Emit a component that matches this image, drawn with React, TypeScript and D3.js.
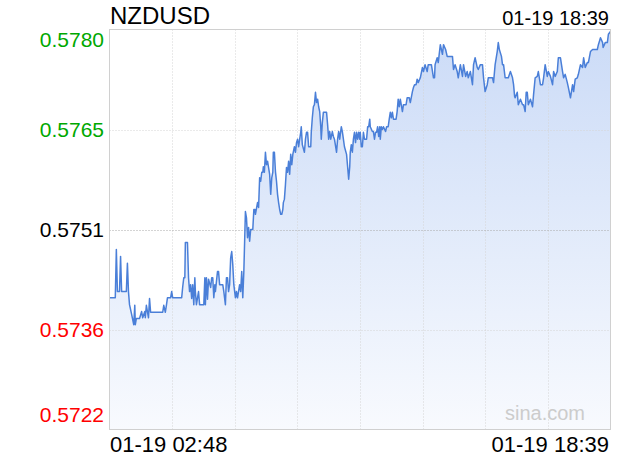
import React from "react";
import * as d3 from "d3";

const symbol = "NZDUSD";
const lastTimeLabel = "01-19 18:39";
const xStartLabel = "01-19 02:48";
const xEndLabel = "01-19 18:39";
const watermark = "sina.com";

// price axis (prev close in the middle)
const prevClose = 0.57508;
const yTickValues = [0.57798, 0.57653, 0.57508, 0.57363, 0.57218];
const totalMinutes = 951; // 02:48 -> 18:39

// [minutes since 02:48, price]
const series: [number, number][] = [
  [0, 0.57409], [2, 0.57409], [11, 0.57409], [13, 0.57479], [15, 0.57418], [19, 0.57418], [21, 0.57469], [23, 0.57418],
  [32, 0.57418], [34, 0.57459], [36, 0.57418], [38, 0.57399], [42, 0.57385], [46, 0.5737], [48, 0.57398], [49, 0.5737],
  [51, 0.57379], [57, 0.57379], [61, 0.57389], [63, 0.5738], [67, 0.57389], [68, 0.5738], [70, 0.57398], [74, 0.5738],
  [76, 0.57408], [78, 0.57388], [101, 0.57388], [103, 0.57398], [106, 0.57388], [108, 0.57398], [110, 0.57409], [116, 0.57409],
  [118, 0.57418], [120, 0.57409], [137, 0.57409], [139, 0.57425], [141, 0.57438], [143, 0.57438], [144, 0.57489], [148, 0.57489],
  [150, 0.57438], [152, 0.57418], [154, 0.57428], [156, 0.57408], [158, 0.57428], [160, 0.57399], [162, 0.57438], [163, 0.57418],
  [165, 0.57399], [169, 0.57418], [171, 0.57399], [179, 0.57399], [181, 0.57438], [182, 0.57399], [184, 0.57438], [186, 0.57407],
  [188, 0.57436], [192, 0.57424], [194, 0.57438], [196, 0.57438], [198, 0.57409], [200, 0.57428], [201, 0.57418], [205, 0.57447],
  [207, 0.57447], [209, 0.57428], [215, 0.57428], [217, 0.57418], [220, 0.57399], [222, 0.57438], [224, 0.57438], [226, 0.57418],
  [228, 0.57428], [230, 0.57467], [232, 0.57476], [234, 0.57457], [236, 0.57428], [239, 0.57409], [241, 0.57418], [243, 0.57409],
  [247, 0.57428], [249, 0.57418], [251, 0.57447], [253, 0.57409], [255, 0.57447], [258, 0.57534], [260, 0.57525], [262, 0.57496],
  [264, 0.57511], [266, 0.57491], [268, 0.57508], [272, 0.57508], [274, 0.57537], [276, 0.57537], [277, 0.5753], [281, 0.57547],
  [283, 0.5754], [285, 0.57583], [287, 0.57578], [289, 0.57591], [291, 0.57591], [292, 0.57599], [294, 0.57591], [296, 0.5762],
  [298, 0.57602], [300, 0.57607], [304, 0.57588], [306, 0.57559], [308, 0.57583], [310, 0.57591], [311, 0.5762], [313, 0.5762],
  [315, 0.57592], [317, 0.57578], [319, 0.57559], [321, 0.57547], [323, 0.57537], [325, 0.5753], [327, 0.5753], [329, 0.57537],
  [330, 0.57547], [332, 0.57552], [334, 0.57573], [336, 0.57598], [338, 0.57591], [340, 0.57607], [342, 0.57588], [344, 0.57617],
  [346, 0.57602], [348, 0.57617], [351, 0.57628], [353, 0.5762], [355, 0.57634], [357, 0.57639], [359, 0.57628], [361, 0.57639],
  [363, 0.57649], [364, 0.57657], [366, 0.57631], [370, 0.5762], [372, 0.57639], [374, 0.57649], [376, 0.57649], [378, 0.57628],
  [382, 0.57628], [383, 0.57649], [385, 0.5767], [387, 0.57686], [389, 0.57689], [391, 0.57707], [393, 0.57692], [395, 0.57697],
  [397, 0.57686], [399, 0.57679], [401, 0.57657], [402, 0.57639], [404, 0.57663], [406, 0.57678], [412, 0.57678], [414, 0.5766],
  [416, 0.57639], [418, 0.5765], [420, 0.57639], [423, 0.5765], [425, 0.57643], [427, 0.57639], [431, 0.5762], [433, 0.57639],
  [435, 0.5765], [437, 0.57639], [440, 0.57657], [442, 0.5765], [444, 0.57639], [446, 0.57628], [450, 0.57617], [452, 0.57599],
  [454, 0.57581], [456, 0.57599], [457, 0.5762], [459, 0.57631], [461, 0.5762], [463, 0.57639], [465, 0.57649], [467, 0.57634],
  [469, 0.57649], [471, 0.57639], [473, 0.57649], [475, 0.57639], [476, 0.57649], [478, 0.57628], [480, 0.57628], [482, 0.57649],
  [484, 0.57639], [488, 0.57639], [490, 0.57657], [492, 0.57657], [494, 0.57668], [495, 0.57657], [499, 0.5765], [501, 0.5765],
  [503, 0.57639], [505, 0.57649], [507, 0.57649], [509, 0.57657], [511, 0.57643], [513, 0.57657], [514, 0.57639], [516, 0.57657],
  [518, 0.57653], [520, 0.57657], [524, 0.5765], [526, 0.57657], [529, 0.57657], [531, 0.57668], [533, 0.57678], [535, 0.5767],
  [537, 0.57678], [539, 0.57668], [544, 0.57668], [546, 0.57679], [548, 0.57697], [550, 0.57686], [552, 0.57697], [556, 0.57679],
  [558, 0.57689], [563, 0.57689], [565, 0.57699], [569, 0.57699], [571, 0.57692], [575, 0.57708], [577, 0.57714], [579, 0.57718],
  [582, 0.57718], [584, 0.57726], [586, 0.57721], [590, 0.57728], [594, 0.57743], [596, 0.57737], [599, 0.57747], [603, 0.57737],
  [605, 0.57747], [611, 0.57747], [615, 0.57728], [617, 0.57728], [618, 0.57747], [622, 0.57757], [624, 0.5775], [628, 0.57776],
  [632, 0.57762], [634, 0.57776], [638, 0.57769], [641, 0.57759], [651, 0.57759], [653, 0.5774], [656, 0.57747], [660, 0.57737],
  [662, 0.57728], [666, 0.57747], [670, 0.5773], [672, 0.57747], [676, 0.5773], [679, 0.57737], [681, 0.57728], [685, 0.57737],
  [689, 0.57718], [691, 0.57747], [694, 0.57757], [698, 0.57743], [700, 0.5774], [704, 0.57747], [708, 0.57747], [710, 0.57728],
  [713, 0.57708], [717, 0.57718], [719, 0.57728], [727, 0.57728], [729, 0.57721], [732, 0.57747], [736, 0.57766], [738, 0.57779],
  [740, 0.57769], [744, 0.57759], [746, 0.57747], [748, 0.57747], [751, 0.57728], [757, 0.57728], [761, 0.57737], [765, 0.57728],
  [767, 0.57718], [769, 0.57701], [770, 0.57699], [774, 0.57707], [776, 0.57689], [780, 0.57697], [784, 0.57689], [786, 0.57689],
  [789, 0.57679], [791, 0.57707], [793, 0.57707], [795, 0.57689], [799, 0.57697], [803, 0.57686], [805, 0.57704], [808, 0.57728],
  [812, 0.5773], [814, 0.57737], [818, 0.57718], [822, 0.57718], [824, 0.57728], [827, 0.57747], [831, 0.5773], [833, 0.57737],
  [837, 0.5773], [841, 0.57718], [843, 0.57737], [846, 0.5773], [850, 0.57737], [852, 0.57757], [856, 0.57757], [860, 0.57737],
  [862, 0.57728], [865, 0.57733], [869, 0.57721], [871, 0.57714], [875, 0.57699], [879, 0.57718], [881, 0.57708], [884, 0.57726],
  [888, 0.57728], [890, 0.57733], [894, 0.57747], [898, 0.57743], [900, 0.57757], [903, 0.57743], [907, 0.5775], [909, 0.5775],
  [913, 0.57766], [917, 0.57769], [926, 0.57769], [928, 0.57776], [932, 0.57786], [936, 0.57779], [937, 0.57772], [941, 0.57779],
  [945, 0.57779], [947, 0.57791], [951, 0.57795],
];

const W = 620;
const H = 460;
const L = 109.5;
const R = 610.5;
const T = 29.5;
const B = 429.5;
const FONT = "'Liberation Sans', Arial, Helvetica, sans-serif";

export default function App() {
  const x = d3.scaleLinear().domain([0, totalMinutes]).range([L, R]);
  const y = d3
    .scaleLinear()
    .domain([yTickValues[yTickValues.length - 1], yTickValues[0]])
    .range([B, T]);

  const line = d3
    .line<[number, number]>()
    .x((d) => x(d[0]))
    .y((d) => y(d[1]));
  const area = d3
    .area<[number, number]>()
    .x((d) => x(d[0]))
    .y0(B)
    .y1((d) => y(d[1]));

  const vGrid = d3.range(1, 8).map((i) => Math.round(L + ((R - L) * i) / 8) + 0.5);

  const labelColor = (v: number) =>
    Math.abs(v - prevClose) < 1e-7 ? "#000" : v > prevClose ? "#00a800" : "#ff0000";

  return (
    <svg
      width={W}
      height={H}
      style={{ position: "absolute", left: 0, top: 0, background: "#fff" }}
      fontFamily={FONT}
    >
      <defs>
        <linearGradient id="areaFill" gradientUnits="userSpaceOnUse" x1={0} y1={T} x2={0} y2={B}>
          <stop offset="0" stopColor="#cbdbf7" />
          <stop offset="1" stopColor="#f8fafe" />
        </linearGradient>
      </defs>

      <path d={area(series) || ""} fill="url(#areaFill)" />

      {vGrid.map((gx, i) => (
        <line key={"v" + i} x1={gx} x2={gx} y1={T} y2={B} stroke="#d4d4d4" strokeDasharray="1,2" />
      ))}
      {yTickValues.slice(1, -1).map((v, i) => {
        const gy = Math.round(y(v)) + 0.5;
        const isMid = Math.abs(v - prevClose) < 1e-7;
        return (
          <line
            key={"h" + i}
            x1={L}
            x2={R}
            y1={gy}
            y2={gy}
            stroke={isMid ? "#a8a8a8" : "#d4d4d4"}
            strokeDasharray="1,2"
          />
        );
      })}

      <path d={line(series) || ""} fill="none" stroke="#4a7fd8" strokeWidth={1.5} strokeLinejoin="round" />

      <rect x={L} y={T} width={R - L} height={B - T} fill="none" stroke="#d0d0d0" strokeWidth={1} />

      {yTickValues.map((v, i) => {
        let yy = y(v) + 7;
        if (i === 0) yy = T + 17;
        if (i === yTickValues.length - 1) yy = B - 8;
        return (
          <text key={"yl" + i} x={104} y={yy} textAnchor="end" fontSize={21} fill={labelColor(v)}>
            {v.toFixed(4)}
          </text>
        );
      })}

      <text x={110} y={24} fontSize={24} fill="#000">
        {symbol}
      </text>
      <text x={609} y={25} fontSize={20} textAnchor="end" fill="#000">
        {lastTimeLabel}
      </text>

      <text x={110} y={452} fontSize={22} fill="#000">
        {xStartLabel}
      </text>
      <text x={609} y={452} fontSize={22} textAnchor="end" fill="#000">
        {xEndLabel}
      </text>

      <text x={585} y={420} fontSize={20} textAnchor="end" fill="#cccccc">
        {watermark}
      </text>
    </svg>
  );
}
